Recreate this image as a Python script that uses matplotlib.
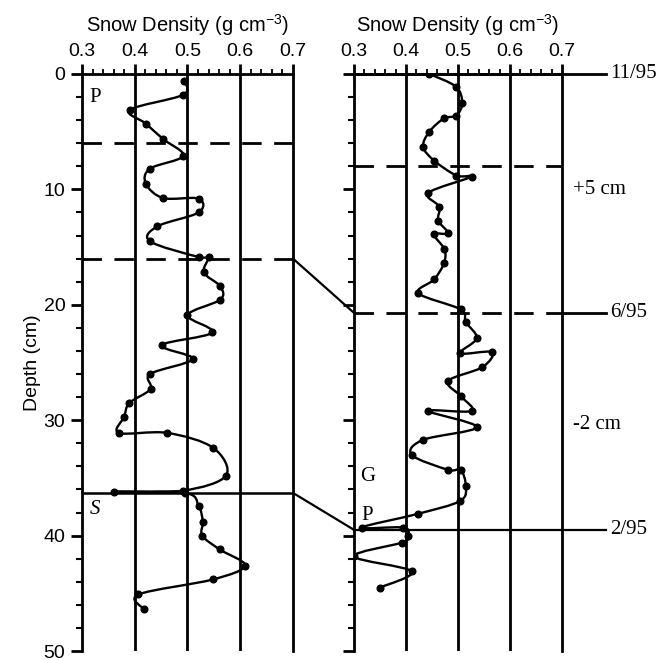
import numpy as np
import matplotlib
matplotlib.use('Agg')
import matplotlib.pyplot as plt
from matplotlib.path import Path
from matplotlib.patches import PathPatch, ConnectionPatch
from matplotlib.ticker import MultipleLocator

# left profile (density in g/cm3, depth in cm)
left_density = [0.494, 0.492, 0.391, 0.421, 0.454, 0.492, 0.429, 0.421, 0.454, 0.521,
                0.521, 0.443, 0.429, 0.521, 0.540, 0.531, 0.562, 0.562, 0.500, 0.547,
                0.451, 0.510, 0.429, 0.430, 0.390, 0.380, 0.370, 0.462, 0.549, 0.573,
                0.492, 0.361, 0.495, 0.521, 0.529, 0.528, 0.561, 0.609, 0.548, 0.407, 0.418]
left_depth = [0.6, 1.8, 3.1, 4.3, 5.65, 7.1, 8.2, 9.5, 10.75, 10.8,
              12.0, 13.2, 14.5, 15.86, 15.86, 17.2, 18.4, 19.55, 20.9, 22.4,
              23.5, 24.7, 26.0, 27.3, 28.5, 29.7, 31.1, 31.1, 32.4, 34.8,
              36.1, 36.2, 36.3, 37.4, 38.8, 40.0, 41.2, 42.6, 43.8, 45.1, 46.4]

# right profile
right_density = [0.445, 0.496, 0.508, 0.497, 0.473, 0.445, 0.433, 0.454, 0.497, 0.526,
                 0.443, 0.464, 0.462, 0.481, 0.454, 0.474, 0.473, 0.454, 0.424, 0.505,
                 0.515, 0.536, 0.504, 0.565, 0.547, 0.481, 0.505, 0.526, 0.443, 0.536,
                 0.433, 0.411, 0.481, 0.505, 0.515, 0.504, 0.424, 0.315, 0.395, 0.404,
                 0.392, 0.300, 0.411, 0.350]
right_depth = [0.0, 1.1, 2.5, 3.6, 3.85, 5.0, 6.3, 7.5, 8.8, 8.9,
               10.3, 11.5, 12.7, 13.8, 13.9, 15.2, 16.4, 17.8, 19.0, 20.4,
               21.5, 22.9, 24.2, 24.1, 25.4, 26.6, 27.9, 29.2, 29.2, 30.6,
               31.7, 33.0, 34.3, 34.3, 35.7, 37.0, 38.1, 39.3, 39.3, 40.0,
               40.6, 41.8, 43.1, 44.5]

left_dashed = [6, 16]
left_solid = [36.3]
right_dashed = [8]
right_marks = [0, 20.7, 39.5]        # 11/95, 6/95, 2/95
right_mark_labels = ['11/95', '6/95', '2/95']
offset_labels = ['+5 cm', '-2 cm']
offset_depths = [10.0, 30.4]


def smooth(xs, ys):
    # catmull-rom through the points, drawn as bezier curves
    p = np.column_stack([xs, ys])
    pts = np.vstack([p[0], p, p[-1]])
    verts = [p[0]]
    codes = [Path.MOVETO]
    for i in range(1, len(pts) - 2):
        c1 = pts[i] + (pts[i + 1] - pts[i - 1]) / 6.0
        c2 = pts[i + 1] - (pts[i + 2] - pts[i]) / 6.0
        verts += [c1, c2, pts[i + 1]]
        codes += [Path.CURVE4] * 3
    return Path(verts, codes)


def setup(ax, labels=True):
    ax.set_xlim(0.3, 0.7)
    ax.set_ylim(50, 0)
    ax.xaxis.set_ticks_position('top')
    ax.xaxis.set_major_locator(MultipleLocator(0.1))
    ax.xaxis.set_minor_locator(MultipleLocator(0.02))
    ax.yaxis.set_major_locator(MultipleLocator(10))
    ax.yaxis.set_minor_locator(MultipleLocator(2))
    ax.set_xticks([0.3, 0.4, 0.5, 0.6, 0.7])
    ax.set_xticklabels(['0.3', '0.4', '0.5', '0.6', '0.7'])
    ax.tick_params(axis='x', which='major', length=7, width=2, pad=3, labelsize=14)
    ax.tick_params(axis='x', which='minor', length=3.5, width=1.3)
    ax.tick_params(axis='y', which='major', length=8, width=2, pad=4, labelsize=14,
                   labelleft=labels)
    ax.tick_params(axis='y', which='minor', length=4.5, width=1.5)
    ax.spines['bottom'].set_visible(False)
    for s in ['left', 'top', 'right']:
        ax.spines[s].set_linewidth(2)
    for v in [0.4, 0.5, 0.6]:
        ax.axvline(v, color='black', lw=2, zorder=1)
    ax.set_title('Snow Density (g cm$^{-3}$)', fontsize=14.5, pad=8)


plt.rcParams['font.family'] = ['Liberation Sans', 'DejaVu Sans']
plt.rcParams['mathtext.fontset'] = 'custom'
plt.rcParams['mathtext.rm'] = 'Liberation Sans'

fig = plt.figure(figsize=(6.58, 6.6), dpi=100)
ax1 = fig.add_axes([0.1246, 0.0136, 0.3207, 0.8743])
ax2 = fig.add_axes([0.538, 0.0136, 0.3161, 0.8743])
setup(ax1)
setup(ax2, labels=False)
ax1.set_ylabel('Depth (cm)', fontsize=14, labelpad=2)

serif = ['Liberation Serif', 'DejaVu Serif']

# left panel
ax1.add_patch(PathPatch(smooth(left_density, left_depth), fill=False, lw=1.7,
                        color='black', zorder=3))
ax1.plot(left_density, left_depth, 'o', color='black', ms=4.8, zorder=4)
for d in left_dashed:
    ax1.plot([0.3, 0.7], [d, d], color='black', lw=2, ls=(0, (7, 4.5)), zorder=2)
for d in left_solid:
    ax1.plot([0.3, 0.7], [d, d], color='black', lw=1.8, zorder=2)
ax1.text(0.314, 2.0, 'P', family=serif, fontsize=15, ha='left', va='center')
ax1.text(0.314, 37.7, 'S', family=serif, style='italic', fontsize=15, ha='left', va='center')

# right panel
ax2.add_patch(PathPatch(smooth(right_density, right_depth), fill=False, lw=1.7,
                        color='black', zorder=3))
ax2.plot(right_density, right_depth, 'o', color='black', ms=4.8, zorder=4)
for d in right_dashed:
    ax2.plot([0.3, 0.7], [d, d], color='black', lw=2, ls=(0, (7, 4.5)), zorder=2)
ax2.plot([0.3, 0.7], [right_marks[1]] * 2, color='black', lw=2, ls=(0, (7, 4.5)), zorder=2)
ax2.plot([0.7, 0.785], [right_marks[1]] * 2, color='black', lw=2, clip_on=False)
ax2.plot([0.3, 0.785], [right_marks[0]] * 2, color='black', lw=2, clip_on=False)
ax2.plot([0.3, 0.785], [right_marks[2]] * 2, color='black', lw=1.6, clip_on=False)
for d, lab in zip(right_marks, right_mark_labels):
    ax2.text(0.792, d, lab, family=serif, fontsize=15, ha='left', va='center')
for d, lab in zip(offset_depths, offset_labels):
    ax2.text(0.722, d, lab, family=serif, fontsize=15, ha='left', va='center')
ax2.text(0.311, 34.9, 'G', family=serif, fontsize=15, ha='left', va='center')
ax2.text(0.315, 38.3, 'P', family=serif, fontsize=15, ha='left', va='center')

# tie lines between the panels
for (d1, d2) in [(left_dashed[1], right_marks[1]), (left_solid[0], right_marks[2])]:
    con = ConnectionPatch(xyA=(0.7, d1), coordsA=ax1.transData,
                          xyB=(0.3, d2), coordsB=ax2.transData,
                          color='black', lw=1.6)
    fig.add_artist(con)

fig.savefig('out.png', dpi=100)
